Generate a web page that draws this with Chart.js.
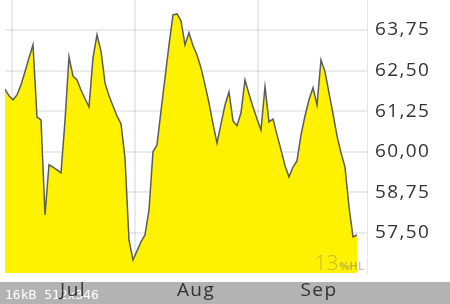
<!DOCTYPE html>
<html>
<head>
<meta charset="utf-8">
<script src="https://cdn.jsdelivr.net/npm/chart.js@4/dist/chart.umd.min.js"></script>
<style>
  html, body { margin: 0; padding: 0; background: #fff; }
  #wrap { width: 450px; height: 304px; position: relative; }
</style>
</head>
<body>
<div id="wrap"><canvas id="priceChart" width="450" height="304"></canvas></div>
<script>
// daily closes, late June to late September
const prices = [
    61.93, 61.72, 61.60, 61.75, 62.06, 62.46, 62.89, 63.29, 61.07, 60.98,
    58.06, 59.60, 59.53, 59.44, 59.35, 60.95, 62.92, 62.33, 62.21, 61.90,
    61.63, 61.38, 62.89, 63.60, 63.10, 62.12, 61.72, 61.41, 61.10, 60.86,
    59.81, 57.29, 56.67, 56.95, 57.23, 57.44, 58.21, 60.00, 60.21, 61.26,
    62.27, 63.29, 64.21, 64.24, 64.03, 63.29, 63.66, 63.26, 62.98, 62.58,
    62.06, 61.50, 60.86, 60.27, 60.86, 61.44, 61.84, 60.95, 60.80, 61.20,
    62.21, 61.78, 61.38, 61.01, 60.67, 62.00, 60.92, 61.01, 60.52, 60.06,
    59.57, 59.23, 59.53, 59.72, 60.52, 61.10, 61.60, 61.97, 61.44, 62.83,
    62.46, 61.81, 61.17, 60.49, 59.97, 59.53, 58.30, 57.38, 57.44
];
const monthNames = ['Jul', 'Aug', 'Sep'];
const monthStarts = [1.75, 32.5, 63.25];
const yTicks = [57.5, 58.75, 60, 61.25, 62.5, 63.75];

const overlayPlugin = {
    id: 'overlay',
    beforeDraw(chart) {
        const ctx = chart.ctx;
        ctx.save();
        ctx.fillStyle = '#b3b3b3';
        ctx.fillRect(0, 282, chart.width, chart.height - 282);
        ctx.fillStyle = '#ffffff';
        ctx.font = "13px 'DejaVu Sans Mono'";
        ctx.textBaseline = 'alphabetic';
        ctx.fillText('16kB 512x346', 5, 299);
        ctx.restore();
        ctx.letterSpacing = '1.4px';
    },
    afterDatasetsDraw(chart) {
        const ctx = chart.ctx;
        ctx.save();
        ctx.letterSpacing = '0px';
        ctx.fillStyle = 'rgba(110,110,110,0.42)';
        ctx.textBaseline = 'alphabetic';
        ctx.textAlign = 'right';
        ctx.font = "bold 11px 'Open Sans'";
        ctx.fillText('%HL', 364, 270);
        const w = ctx.measureText('%HL').width;
        ctx.font = "300 21px 'Open Sans'";
        ctx.fillText('13', 364 - w - 1, 270);
        ctx.restore();
    },
    afterDraw(chart) {
        chart.ctx.letterSpacing = '0px';
    }
};

const noPad = (scale) => {
    scale.paddingTop = 0;
    scale.paddingBottom = 0;
    scale.paddingLeft = 0;
    scale.paddingRight = 0;
};

const ctx = document.getElementById('priceChart').getContext('2d');
new Chart(ctx, {
    type: 'line',
    data: {
        datasets: [{
            data: prices.map((v, i) => ({ x: i, y: v })),
            borderColor: '#5c5c5c',
            borderWidth: 1.5,
            backgroundColor: '#fff200',
            fill: 'start',
            pointRadius: 0,
            tension: 0
        }]
    },
    options: {
        responsive: false,
        animation: false,
        layout: { padding: { left: 5, right: 0, top: 0, bottom: 0 } },
        plugins: { legend: { display: false }, tooltip: { enabled: false } },
        scales: {
            x: {
                type: 'linear',
                min: 0,
                max: 90.5,
                z: 1,
                afterBuildTicks: (scale) => { scale.ticks = monthStarts.map(v => ({ value: v })); },
                afterFit: (scale) => { scale.height = 31; noPad(scale); },
                grid: { color: 'rgba(0,0,0,0.08)', lineWidth: 2, drawTicks: false },
                border: { display: false },
                ticks: {
                    autoSkip: false,
                    maxRotation: 0,
                    padding: 6,
                    labelOffset: 61,
                    color: '#333',
                    font: { family: "'Open Sans'", size: 19 },
                    callback: (value, index) => monthNames[index]
                }
            },
            y: {
                position: 'right',
                min: 56.27,
                max: 64.67,
                z: 1,
                afterBuildTicks: (scale) => { scale.ticks = yTicks.map(v => ({ value: v })); },
                afterFit: (scale) => { scale.width = 83; noPad(scale); },
                grid: { color: 'rgba(0,0,0,0.08)', lineWidth: 2, drawTicks: false },
                border: { display: true, color: '#e6e6e6', width: 1 },
                ticks: {
                    padding: 8,
                    color: '#333',
                    font: { family: "'Open Sans'", size: 19 },
                    callback: (value) => value.toFixed(2).replace('.', ',')
                }
            }
        }
    },
    plugins: [overlayPlugin]
});
</script>
</body>
</html>
